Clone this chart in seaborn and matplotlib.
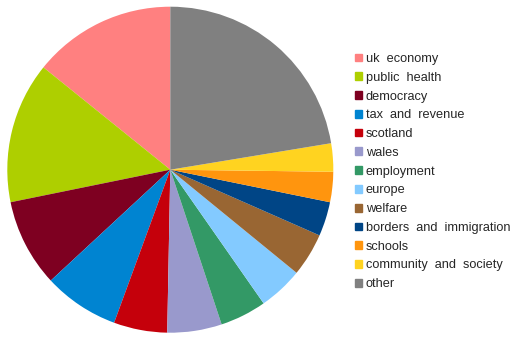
import matplotlib
matplotlib.use("Agg")
import matplotlib.pyplot as plt
import matplotlib.patches as mpatches
import seaborn as sns

topics = [
    "uk economy", "public health", "democracy", "tax and revenue", "scotland",
    "wales", "employment", "europe", "welfare", "borders and immigration",
    "schools", "community and society", "other",
]
shares = [14.2, 14.0, 8.7, 7.5, 5.3, 5.4, 4.6, 4.4, 4.3, 3.4, 3.0, 2.8, 22.4]
colours = [
    "#ff8080", "#aecf00", "#7e0021", "#0084d1", "#c5000b", "#9999cc",
    "#339966", "#83caff", "#996633", "#004586", "#ff950e", "#ffd320", "#808080",
]

sns.set_style("white")
plt.rcParams["font.family"] = ["Liberation Sans", "DejaVu Sans"]

fig = plt.figure(figsize=(5.30, 3.39), dpi=100)
ax = fig.add_axes([7.3 / 530, 6.3 / 339, 326 / 530, 326 / 339])

ax.pie(
    shares,
    colors=colours,
    startangle=90,
    counterclock=True,
    wedgeprops=dict(linewidth=0),
)
ax.set_xlim(-1, 1)
ax.set_ylim(-1, 1)
ax.set_aspect("equal")

# legend labels render with wide gaps between words
labels = [t.replace(" ", "  ") for t in topics]
handles = [mpatches.Patch(color=c, label=l) for c, l in zip(colours, labels)]
fig.legend(
    handles=handles,
    loc="upper left",
    bbox_to_anchor=(355 / 530, 1 - 53 / 339),
    frameon=False,
    fontsize=9.2,
    handlelength=0.55,
    handleheight=0.55,
    handletextpad=0.3,
    labelspacing=0.53,
    borderpad=0,
    borderaxespad=0,
)

fig.savefig("out.png", dpi=100)
